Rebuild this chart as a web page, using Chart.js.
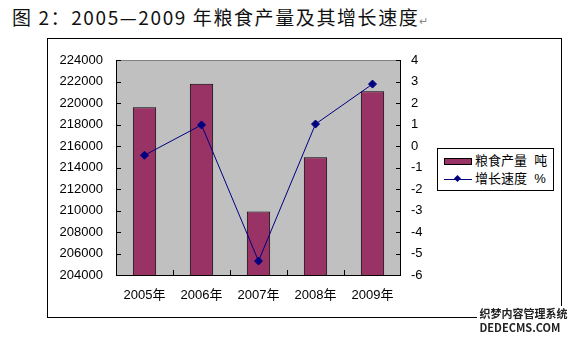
<!DOCTYPE html>
<html>
<head>
<meta charset="utf-8">
<script src="https://cdn.jsdelivr.net/npm/chart.js@4"></script>
<style>
  body { margin: 0; background: #fff; }
  #wrap { position: relative; width: 588px; height: 345px; overflow: hidden; }
  #title { position: absolute; left: 12px; top: 3px; font: 19px "Noto Sans CJK SC", sans-serif; letter-spacing: 1.6px; color: #111; white-space: nowrap; }
  #title .ret { font-size: 11px; color: #888; letter-spacing: 0; }
  #frame { position: absolute; left: 47px; top: 38px; width: 513px; height: 278px; border: 1px solid #000; }
  #chart { position: absolute; left: 0; top: 0; }
  #legend { position: absolute; left: 437px; top: 148px; width: 115px; height: 41px; border: 1px solid #000; background: #fff;
            font: 13px "Liberation Sans", "Noto Sans CJK SC", sans-serif; }
  .row { position: absolute; left: 6px; height: 16px; line-height: 16px; white-space: nowrap; }
  .sw { display: inline-block; width: 26px; height: 5px; background: #993366; border: 1px solid #000; vertical-align: middle; margin-right: 3px; }
  .ln { display: inline-block; width: 28px; height: 1px; background: #000080; vertical-align: middle; position: relative; margin-right: 3px; }
  .ln i { position: absolute; left: 11px; top: -3px; width: 5px; height: 5px; background: #000080; transform: rotate(45deg); }
  #wm { position: absolute; left: 477px; top: 306px; width: 111px; height: 39px; background: #fff;
        font: bold 11px "Noto Sans CJK SC", sans-serif; color: #222; line-height: 14px; }
</style>
</head>
<body>
<div id="wrap">
  <div id="title">图 2：2005—2009 年粮食产量及其增长速度<span class="ret">↵</span></div>
  <div id="frame"></div>
  <canvas id="chart" width="588" height="345"></canvas>
  <div id="legend">
    <div class="row" style="top:4px"><span class="sw"></span>粮食产量&nbsp;&nbsp;吨</div>
    <div class="row" style="top:22px"><span class="ln"><i></i></span>增长速度&nbsp;&nbsp;%</div>
  </div>
  <div id="wm">&nbsp;织梦内容管理系统<br>&nbsp;DEDECMS.COM</div>
</div>
<script>
// data
const years = ['2005年', '2006年', '2007年', '2008年', '2009年'];
const grainOutput = [219600, 221800, 209900, 214950, 221100]; // 吨
const growthRate = [-0.43, 0.98, -5.35, 1.02, 2.88];           // %

const leftMin = 204000, leftMax = 224000, leftStep = 2000;
const rightMin = -6, rightMax = 4, rightStep = 1;

const FONT = { family: '"Liberation Sans", "Noto Sans CJK SC", sans-serif', size: 13 };

// grey plot area + frame + inside tick marks
const plotFrame = {
  id: 'plotFrame',
  beforeDatasetsDraw(chart) {
    const { ctx, chartArea: a } = chart;
    ctx.save();
    ctx.fillStyle = '#c0c0c0';
    ctx.fillRect(a.left, a.top, a.right - a.left, a.bottom - a.top);
    ctx.restore();
  },
  afterDatasetsDraw(chart) {
    const { ctx, chartArea: a, scales } = chart;
    ctx.save();
    ctx.lineWidth = 1;
    ctx.strokeStyle = '#808080';
    ctx.beginPath();
    ctx.moveTo(a.left, a.top + 0.5); ctx.lineTo(a.right, a.top + 0.5);
    ctx.stroke();
    ctx.strokeStyle = '#000';
    ctx.beginPath();
    ctx.moveTo(a.left + 0.5, a.top); ctx.lineTo(a.left + 0.5, a.bottom + 0.5);
    ctx.lineTo(a.right - 0.5, a.bottom + 0.5); ctx.lineTo(a.right - 0.5, a.top);
    // left ticks
    scales.y.ticks.forEach(t => {
      const py = Math.round(scales.y.getPixelForValue(t.value)) + 0.5;
      ctx.moveTo(a.left, py); ctx.lineTo(a.left + 5, py);
    });
    // right ticks
    scales.y1.ticks.forEach(t => {
      const py = Math.round(scales.y1.getPixelForValue(t.value)) + 0.5;
      ctx.moveTo(a.right - 5, py); ctx.lineTo(a.right, py);
    });
    // x ticks between categories
    const step = (a.right - a.left) / years.length;
    for (let i = 1; i < years.length; i++) {
      const px = Math.round(a.left + step * i) + 0.5;
      ctx.moveTo(px, a.bottom); ctx.lineTo(px, a.bottom - 5);
    }
    ctx.stroke();
    ctx.restore();
  }
};

new Chart(document.getElementById('chart'), {
  data: {
    labels: years,
    datasets: [
      {
        type: 'line',
        label: '增长速度  %',
        data: growthRate,
        yAxisID: 'y1',
        borderColor: '#000080',
        borderWidth: 1,
        pointStyle: 'rectRot',
        pointRadius: 4,
        pointBackgroundColor: '#000080',
        pointBorderColor: '#000080',
        tension: 0,
        order: 0
      },
      {
        type: 'bar',
        label: '粮食产量  吨',
        data: grainOutput,
        yAxisID: 'y',
        backgroundColor: '#993366',
        borderColor: '#000',
        borderWidth: 1,
        barPercentage: 0.41,
        categoryPercentage: 1.0,
        order: 1
      }
    ]
  },
  options: {
    responsive: false,
    animation: false,
    layout: { padding: { top: 60, bottom: 30, left: 0, right: 0 } },
    plugins: { legend: { display: false }, tooltip: { enabled: false } },
    scales: {
      x: {
        offset: true,
        grid: { display: false, drawTicks: false },
        border: { display: false },
        ticks: { color: '#000', font: FONT, padding: 13 },
        afterFit(s) { s.height = 40; }
      },
      y: {
        position: 'left',
        min: leftMin, max: leftMax,
        grid: { display: false, drawTicks: false },
        border: { display: false },
        ticks: { stepSize: leftStep, color: '#000', font: FONT, padding: 13, callback: v => String(v) },
        afterFit(s) { s.width = 116; }
      },
      y1: {
        position: 'right',
        min: rightMin, max: rightMax,
        grid: { display: false, drawTicks: false },
        border: { display: false },
        ticks: { stepSize: rightStep, color: '#000', font: FONT, padding: 10, callback: v => String(v) },
        afterFit(s) { s.width = 187; }
      }
    }
  },
  plugins: [plotFrame]
});
</script>
</body>
</html>
